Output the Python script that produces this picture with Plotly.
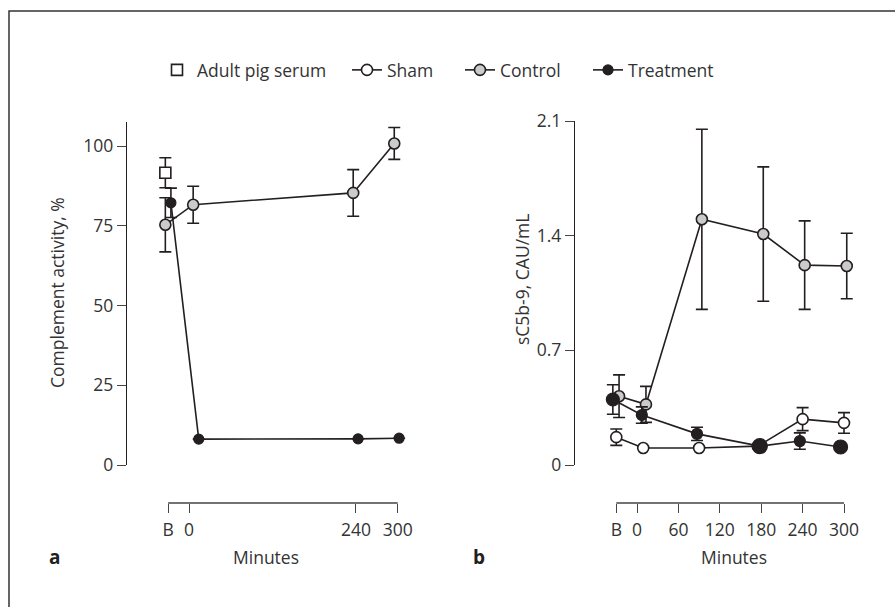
import plotly.graph_objects as go

# ---------------- data ----------------
# time in minutes; "B" = baseline shown at -30
a_tickvals = [-30, 0, 240, 300]
a_ticktext = ["B", "0", "240", "300"]
b_tickvals = [-30, 0, 60, 120, 180, 240, 300]
b_ticktext = ["B", "0", "60", "120", "180", "240", "300"]
a_ytickvals = [0, 25, 50, 75, 100]
b_ytickvals = [0, 0.7, 1.4, 2.1]
b_yticktext = ["0", "0.7", "1.4", "2.1"]

# Panel a: complement activity, %
a_pig_x = [-34]
a_pig_y = [91.6]
a_pig_err = [4.7]

a_control_x = [-34, 6, 236, 295]
a_control_y = [75.3, 81.6, 85.3, 100.8]
a_control_err = [8.5, 5.8, 7.3, 5.0]

a_treat_x = [-26, 14, 243, 302]
a_treat_y = [82.2, 8.1, 8.2, 8.4]
a_treat_err = [4.6, 0, 0, 0]

# Panel b: sC5b-9, CAU/mL
b_sham_x = [-30, 9, 90, 175, 240, 300]
b_sham_y = [0.17, 0.104, 0.104, 0.115, 0.28, 0.257]
b_sham_err = [0.05, 0, 0, 0, 0.07, 0.063]

b_control_x = [-26, 13, 94, 183, 243, 304]
b_control_y = [0.42, 0.37, 1.50, 1.41, 1.22, 1.215]
b_control_err = [0.13, 0.11, 0.55, 0.41, 0.27, 0.20]

b_treat_x = [-35, 7, 87, 178, 236, 295]
b_treat_y = [0.40, 0.305, 0.19, 0.115, 0.146, 0.11]
b_treat_err = [0.09, 0.05, 0.04, 0.0, 0.05, 0.0]
b_treat_size = [13, 11, 11, 15, 11, 14]

# ---------------- layout helpers ----------------
W, H = 895, 607
def px(x):
    return x / W
def py(y):
    return 1 - y / H

INK = "#231f20"
GREY = "#cbcbcb"
TXT = "#333333"
FONT = "Open Sans"
FS = 17.5

# panel a x scale: 0 min at 189 px, 0.6958 px/min
a_s, a_0 = 0.6958, 189.0
a_dom = (140, 420)
a_range = [(a_dom[0] - a_0) / a_s, (a_dom[1] - a_0) / a_s]
# panel b x scale: 0 min at 637 px, 0.69 px/min
b_s, b_0 = 0.69, 637.0
b_dom = (592, 875)
b_range = [(b_dom[0] - b_0) / b_s, (b_dom[1] - b_0) / b_s]

fig = go.Figure()

def err(vals):
    return dict(type="data", array=vals, visible=True, color=INK,
                thickness=1.6, width=6)

line = dict(color=INK, width=1.6)

# ---- panel a ----
fig.add_trace(go.Scatter(
    x=a_control_x, y=a_control_y, error_y=err(a_control_err),
    mode="lines+markers", name="Control", legend="legend3",
    line=line, marker=dict(size=11, color=GREY, opacity=1, line=dict(color=INK, width=1.6)),
    xaxis="x", yaxis="y", cliponaxis=False))
fig.add_trace(go.Scatter(
    x=a_treat_x, y=a_treat_y, error_y=err(a_treat_err),
    mode="lines+markers", name="Treatment", legend="legend4",
    line=line, marker=dict(size=10, color=INK, opacity=1, line=dict(color=INK, width=1.2)),
    xaxis="x", yaxis="y", cliponaxis=False))
fig.add_trace(go.Scatter(
    x=a_pig_x, y=a_pig_y, error_y=err(a_pig_err),
    mode="markers", name="Adult pig serum", legend="legend",
    marker=dict(size=11, symbol="square", color="white", opacity=1,
                line=dict(color=INK, width=1.6)),
    xaxis="x", yaxis="y", cliponaxis=False))

# ---- panel b ----
fig.add_trace(go.Scatter(
    x=b_sham_x, y=b_sham_y, error_y=err(b_sham_err),
    mode="lines+markers", name="Sham", legend="legend2",
    line=line, marker=dict(size=11, color="white", opacity=1, line=dict(color=INK, width=1.6)),
    xaxis="x2", yaxis="y2", cliponaxis=False))
fig.add_trace(go.Scatter(
    x=b_control_x, y=b_control_y, error_y=err(b_control_err),
    mode="lines+markers", name="Control", showlegend=False,
    line=line, marker=dict(size=11, color=GREY, opacity=1, line=dict(color=INK, width=1.6)),
    xaxis="x2", yaxis="y2", cliponaxis=False))
fig.add_trace(go.Scatter(
    x=b_treat_x, y=b_treat_y, error_y=err(b_treat_err),
    mode="lines+markers", name="Treatment", showlegend=False,
    line=line, marker=dict(size=b_treat_size, color=INK, opacity=1,
                           line=dict(color=INK, width=1.2)),
    xaxis="x2", yaxis="y2", cliponaxis=False))

tickfont = dict(family=FONT, size=FS, color=TXT)
common_x = dict(showline=False, showgrid=False, zeroline=False, ticks="outside",
                ticklen=9, tickwidth=1.3, tickcolor="#444444", tickfont=tickfont,
                anchor="free", position=py(503), tickmode="array", automargin=False,
                ticklabelstandoff=2)
common_y = dict(showline=True, linecolor=INK, linewidth=1.4, showgrid=False,
                zeroline=False, ticks="outside", ticklen=9, tickwidth=1.3,
                tickcolor="#444444", tickfont=tickfont, anchor="free",
                tickmode="array", automargin=False)

def leg(xpix):
    return dict(orientation="h", x=px(xpix), y=py(70), xanchor="left", yanchor="middle",
                font=dict(family=FONT, size=FS, color=TXT), bgcolor="rgba(0,0,0,0)",
                borderwidth=0, itemwidth=30)

fig.update_layout(
    template="none",
    width=W, height=H, margin=dict(l=0, r=0, t=0, b=0, autoexpand=False),
    paper_bgcolor="white", plot_bgcolor="rgba(0,0,0,0)",
    font=dict(family=FONT, color=TXT),
    xaxis=dict(domain=[px(a_dom[0]), px(a_dom[1])], range=a_range,
               tickvals=a_tickvals, ticktext=a_ticktext, **common_x),
    yaxis=dict(domain=[py(465), py(122)], range=[0, (465 - 122) / 3.19],
               position=px(126), tickvals=a_ytickvals, **common_y),
    xaxis2=dict(domain=[px(b_dom[0]), px(b_dom[1])], range=b_range,
                tickvals=b_tickvals, ticktext=b_ticktext, **common_x),
    yaxis2=dict(domain=[py(465), py(121)], range=[0, 2.1],
                position=px(574), tickvals=b_ytickvals, ticktext=b_yticktext, **common_y),
    showlegend=True,
    legend=leg(157), legend2=leg(347), legend3=leg(460), legend4=leg(588),
)

# x axis lines spanning B..300 only
for xr in ("x", "x2"):
    fig.add_shape(type="line", xref=xr, yref="paper", x0=-30, x1=300,
                  y0=py(503), y1=py(503), line=dict(color="#444444", width=1.4))

# outer frame
fig.add_shape(type="rect", xref="paper", yref="paper", x0=px(9), x1=1.05,
              y0=-0.05, y1=py(11), line=dict(color="#333333", width=1.5))

ann_font = dict(family=FONT, size=FS, color=TXT)
def ann(text, x, y, font=ann_font, angle=0):
    fig.add_annotation(text=text, xref="paper", yref="paper", x=px(x), y=py(y),
                       xanchor="center", yanchor="middle", textangle=angle,
                       showarrow=False, font=font)

ann("Complement activity, %", 57, 293, angle=-90)
ann("sC5b-9, CAU/mL", 522, 280, angle=-90)
ann("Minutes", 266, 557)
ann("Minutes", 734, 557)
ann("<b>a</b>", 54, 557, font=dict(family=FONT, size=19, color=INK))
ann("<b>b</b>", 479, 557, font=dict(family=FONT, size=19, color=INK))

fig.write_html("out.html")
